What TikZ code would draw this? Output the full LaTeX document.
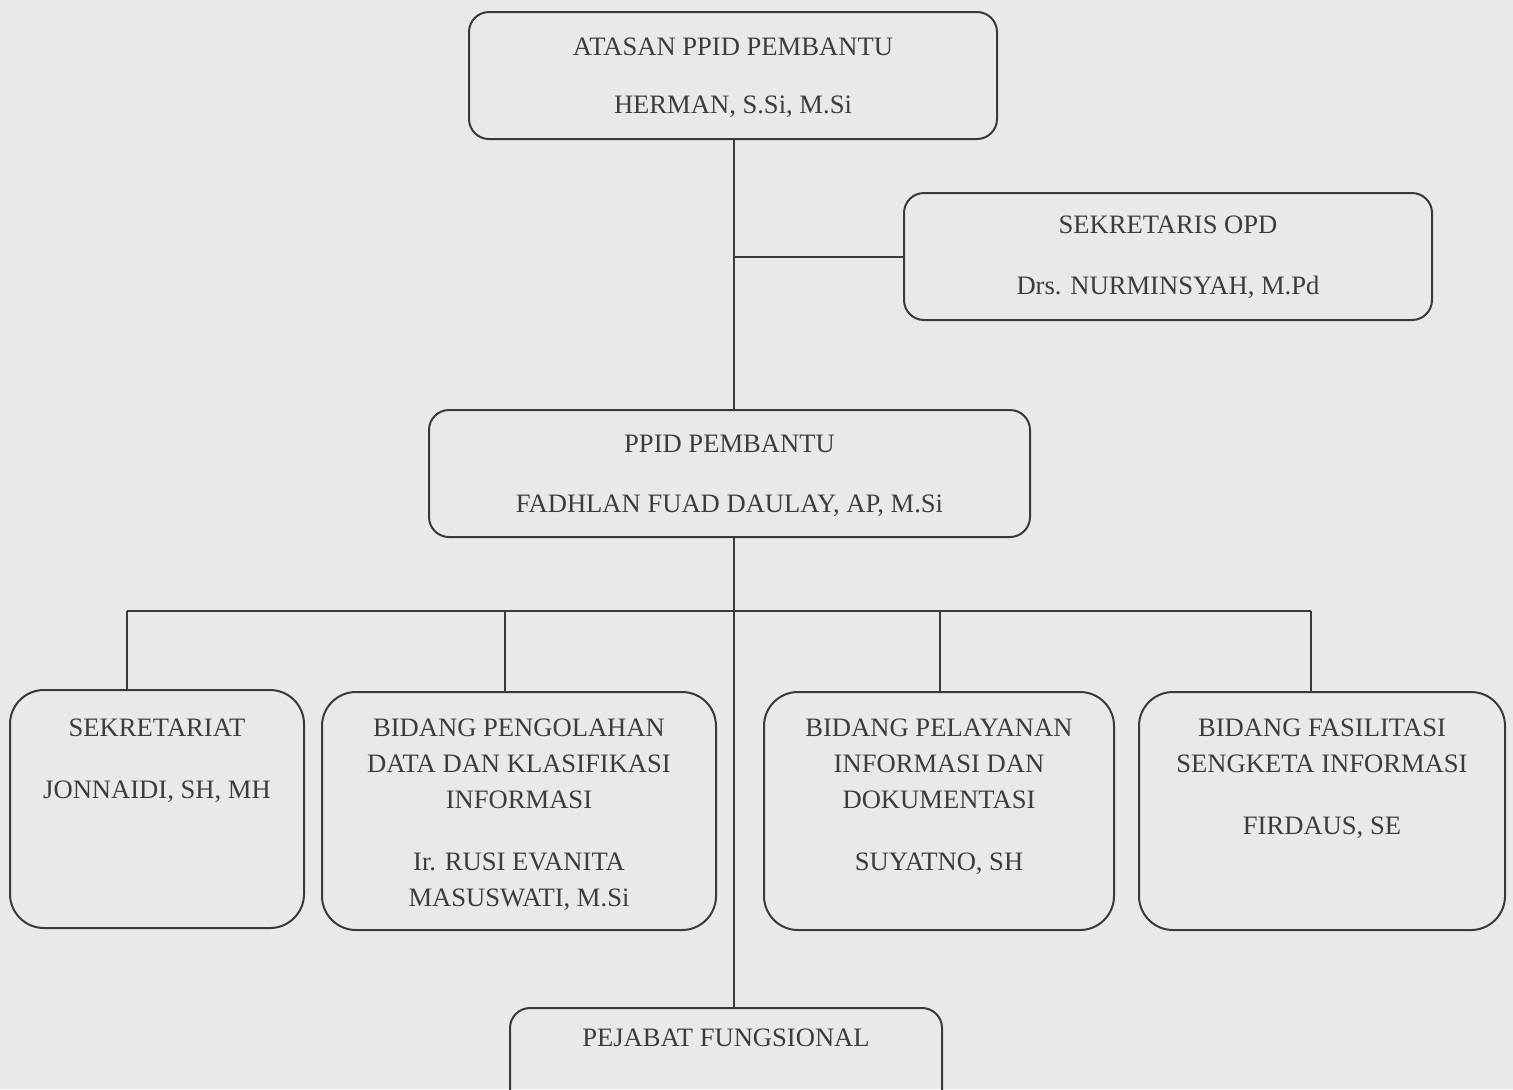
\documentclass[tikz,border=0pt]{standalone}
\usepackage{fontspec}
\setmainfont{Liberation Serif}
\definecolor{bgc}{HTML}{E8EAEA}
\definecolor{linec}{HTML}{3A3A3A}
\definecolor{txtc}{HTML}{3C3C3C}
\begin{document}
\begin{tikzpicture}[x=0.5pt,y=-0.5pt,
  box/.style={draw=linec, line width=1pt, rounded corners=10pt, inner sep=0pt, anchor=center},
  tallbox/.style={box, rounded corners=17pt},
  lbl/.style={text=txtc, font=\fontsize{13.3}{18}\selectfont, align=center, inner sep=0pt, anchor=north},
  conn/.style={draw=linec, line width=1pt}]
\fill[bgc] (0,0) rectangle (1513,1089);
\useasboundingbox (0,0) rectangle (1513,1089);
\clip (0,0) rectangle (1513,1089);

% boxes
\node[box, minimum width=264pt, minimum height=63.5pt] (top) at (733,75.5) {};
\node[box, minimum width=264pt, minimum height=63.5pt] (sekopd) at (1168,256.5) {};
\node[box, minimum width=300.5pt, minimum height=63.5pt] (ppid) at (729.5,473.5) {};
\node[tallbox, minimum width=147pt, minimum height=119pt] (sekr) at (157,809) {};
\node[tallbox, minimum width=197pt, minimum height=119pt] (peng) at (519,811) {};
\node[tallbox, minimum width=175pt, minimum height=119pt] (pel) at (939,811) {};
\node[tallbox, minimum width=183pt, minimum height=119pt] (fas) at (1322,811) {};
\node[box, minimum width=216pt, minimum height=100pt] (pej) at (726,1108) {};

% texts
\node[lbl] (ttop) at ([yshift=-13pt]top.north) {ATASAN PPID PEMBANTU\\[11pt]HERMAN, S.Si, M.Si};
\node[lbl] (tsekopd) at ([yshift=-11.5pt]sekopd.north) {SEKRETARIS OPD\\[12.5pt]Drs. NURMINSYAH, M.Pd};
\node[lbl] (tppid) at ([yshift=-13pt]ppid.north) {PPID PEMBANTU\\[12pt]FADHLAN FUAD DAULAY, AP, M.Si};
\node[lbl] (tsekr) at ([yshift=-14.5pt]sekr.north) {SEKRETARIAT\\[13pt]JONNAIDI, SH, MH};
\node[lbl] (tpeng) at ([yshift=-13.5pt]peng.north) {BIDANG PENGOLAHAN\\DATA DAN KLASIFIKASI\\INFORMASI\\[13pt]Ir. RUSI EVANITA\\MASUSWATI, M.Si};
\node[lbl] (tpel) at ([yshift=-13.5pt]pel.north) {BIDANG PELAYANAN\\INFORMASI DAN\\DOKUMENTASI\\[13pt]SUYATNO, SH};
\node[lbl] (tfas) at ([yshift=-13.5pt]fas.north) {BIDANG FASILITASI\\SENGKETA INFORMASI\\[13pt]FIRDAUS, SE};
\node[lbl] (tpej) at ([yshift=-10.5pt]pej.north) {PEJABAT FUNGSIONAL};

% connectors
\coordinate (sp) at (734,0);
\draw[conn] (top.south -| sp) -- (ppid.north -| sp);
\draw[conn] (sekopd.west) -- (sekopd.west -| sp);
\draw[conn] (ppid.south -| sp) -- (pej.north -| sp);
\coordinate (b1) at (127,611);
\coordinate (b2) at (505,611);
\coordinate (b3) at (940,611);
\coordinate (b4) at (1311,611);
\draw[conn] (b1) -- (b4);
\draw[conn] (b1) -- (b1 |- sekr.north);
\draw[conn] (b2) -- (b2 |- peng.north);
\draw[conn] (b3) -- (b3 |- pel.north);
\draw[conn] (b4) -- (b4 |- fas.north);
\end{tikzpicture}
\end{document}
